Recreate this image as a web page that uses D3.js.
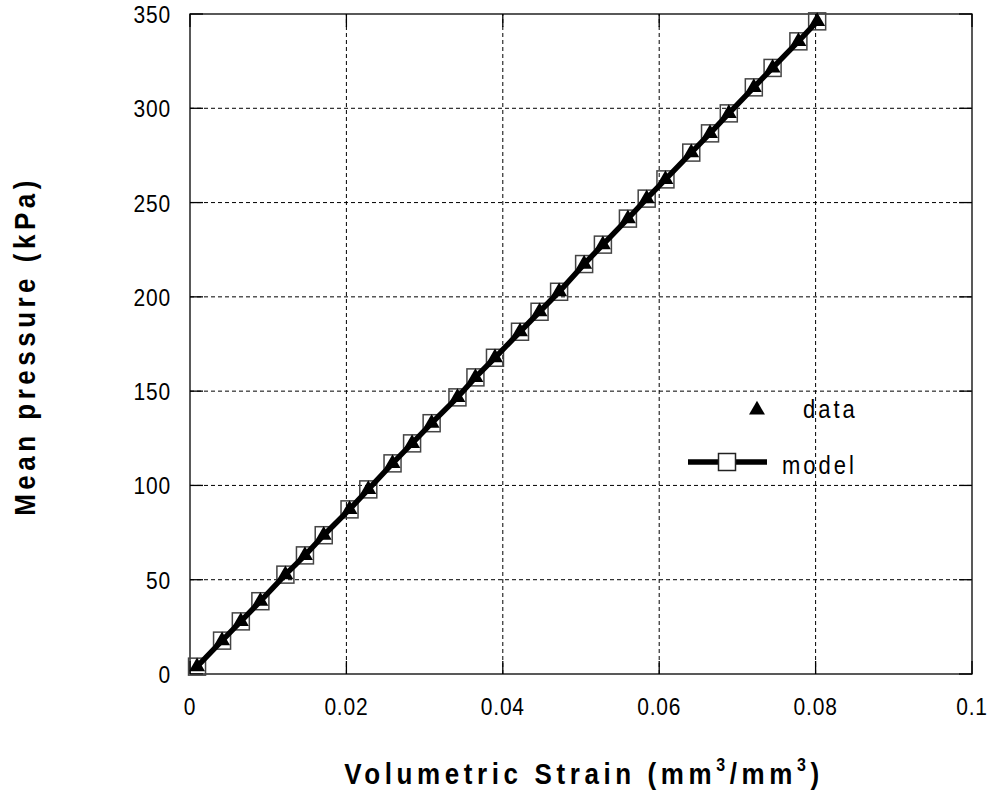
<!DOCTYPE html>
<html>
<head>
<meta charset="utf-8">
<script src="https://cdn.jsdelivr.net/npm/d3@7"></script>
<style>
  body { margin: 0; background: #fff; }
  svg { font-family: "Liberation Sans", Arial, sans-serif; }
</style>
</head>
<body>
<div id="chart"></div>
<script>
// volumetric strain (mm3/mm3) and mean pressure (kPa)
let strain = [0.0009, 0.0041, 0.0065, 0.0090, 0.0122, 0.0147, 0.0171, 0.0204, 0.0228,
    0.0259, 0.0284, 0.0309, 0.0342, 0.0365, 0.0390, 0.0422, 0.0447, 0.0472,
    0.0504, 0.0528, 0.0560, 0.0584, 0.0608, 0.0641, 0.0665, 0.0689,
    0.0721, 0.0745, 0.0778, 0.0802];
let pressure = [3.9, 17.7, 27.9, 38.6, 52.7, 62.9, 73.6, 87.3, 97.9,
    111.7, 122.3, 133.0, 146.7, 157.3, 167.7, 181.5, 192.1, 202.7,
    217.4, 227.7, 241.5, 252.1, 262.3, 276.5, 286.7, 297.3,
    311.1, 321.4, 335.5, 346.1];
// the model curve is drawn through the same points
let modelStrain = strain.slice();
let modelPressure = pressure.slice();

let xTicks = [0, 0.02, 0.04, 0.06, 0.08, 0.1];
let yTicks = [0, 50, 100, 150, 200, 250, 300, 350];

let width = 991, height = 792;
let margin = {left: 190, right: 19, top: 14, bottom: 118};
let stretch = 1.15; // the original glyphs are a bit taller than wide

let x = d3.scaleLinear().domain([0, 0.1]).range([margin.left, width - margin.right]);
let y = d3.scaleLinear().domain([0, 350]).range([height - margin.bottom, margin.top]);

let svg = d3.select("#chart").append("svg")
    .attr("width", width)
    .attr("height", height);

// grid
let grid = svg.append("g")
    .attr("stroke", "#000")
    .attr("stroke-width", 1)
    .attr("stroke-dasharray", "4,3");
grid.selectAll("line.vx")
    .data(xTicks.slice(1, -1))
    .join("line")
    .attr("x1", d => x(d)).attr("x2", d => x(d))
    .attr("y1", y(0)).attr("y2", y(350));
grid.selectAll("line.hy")
    .data(yTicks.slice(1, -1))
    .join("line")
    .attr("y1", d => y(d)).attr("y2", d => y(d))
    .attr("x1", x(0)).attr("x2", x(0.1));

// frame
svg.append("rect")
    .attr("x", x(0)).attr("y", y(350))
    .attr("width", x(0.1) - x(0)).attr("height", y(0) - y(350))
    .attr("fill", "none")
    .attr("stroke", "#000")
    .attr("stroke-width", 1.3);

// inward ticks on all four sides
let tickLen = 13;
let axes = svg.append("g").attr("stroke", "#000").attr("stroke-width", 1.3);
axes.selectAll("line.xb")
    .data(xTicks)
    .join("line")
    .attr("x1", d => x(d)).attr("x2", d => x(d))
    .attr("y1", y(0)).attr("y2", y(0) - tickLen);
axes.selectAll("line.xt")
    .data(xTicks)
    .join("line")
    .attr("x1", d => x(d)).attr("x2", d => x(d))
    .attr("y1", y(350)).attr("y2", y(350) + tickLen);
axes.selectAll("line.yl")
    .data(yTicks)
    .join("line")
    .attr("y1", d => y(d)).attr("y2", d => y(d))
    .attr("x1", x(0)).attr("x2", x(0) + tickLen);
axes.selectAll("line.yr")
    .data(yTicks)
    .join("line")
    .attr("y1", d => y(d)).attr("y2", d => y(d))
    .attr("x1", x(0.1)).attr("x2", x(0.1) - tickLen);

// tick labels
svg.append("g")
    .attr("font-size", 21)
    .attr("letter-spacing", 0.8)
    .attr("text-anchor", "middle")
    .selectAll("text")
    .data(xTicks)
    .join("text")
    .attr("transform", d => `translate(${x(d)},${y(0) + 41}) scale(1,${stretch})`)
    .text(d => d === 0 ? "0" : d3.format("~g")(d));

svg.append("g")
    .attr("font-size", 21)
    .attr("letter-spacing", 0.8)
    .attr("text-anchor", "end")
    .selectAll("text")
    .data(yTicks)
    .join("text")
    .attr("transform", d => `translate(${x(0) - 19},${y(d) + 9}) scale(1,${stretch})`)
    .text(d => d);

// axis titles
let xt = svg.append("text")
    .attr("transform", `translate(${(x(0) + x(0.1)) / 2 + 3},784) scale(1,${stretch})`)
    .attr("text-anchor", "middle")
    .attr("font-size", 26)
    .attr("font-weight", "bold")
    .attr("letter-spacing", 4.6);
xt.append("tspan").text("Volumetric Strain (mm");
xt.append("tspan").attr("font-size", 16).attr("dy", -11).text("3");
xt.append("tspan").attr("dy", 11).text("/mm");
xt.append("tspan").attr("font-size", 16).attr("dy", -11).text("3");
xt.append("tspan").attr("dy", 11).text(")");

svg.append("text")
    .attr("transform", `translate(35,${(y(0) + y(350)) / 2 + 2}) rotate(-90) scale(1,${stretch})`)
    .attr("text-anchor", "middle")
    .attr("font-size", 26)
    .attr("font-weight", "bold")
    .attr("letter-spacing", 4.5)
    .text("Mean pressure (kPa)");

// model: squares, then thick line
let sq = 17;
let tri = d3.symbol().type(d3.symbolTriangle).size(110);

svg.append("g")
    .selectAll("rect")
    .data(d3.range(modelStrain.length))
    .join("rect")
    .attr("x", i => x(modelStrain[i]) - sq / 2)
    .attr("y", i => y(modelPressure[i]) - sq / 2)
    .attr("width", sq).attr("height", sq)
    .attr("fill", "none")
    .attr("stroke", "#444")
    .attr("stroke-width", 1.5);

let line = d3.line()
    .x(i => x(modelStrain[i]))
    .y(i => y(modelPressure[i]));

svg.append("path")
    .datum(d3.range(modelStrain.length))
    .attr("d", line)
    .attr("fill", "none")
    .attr("stroke", "#000")
    .attr("stroke-width", 5.5);

// data triangles
svg.append("g")
    .selectAll("path")
    .data(d3.range(strain.length))
    .join("path")
    .attr("d", tri)
    .attr("transform", i => `translate(${x(strain[i])},${y(pressure[i])})`)
    .attr("fill", "#000");

// legend
let leg = svg.append("g").attr("font-size", 22).attr("letter-spacing", 3);
leg.append("path")
    .attr("d", tri)
    .attr("transform", "translate(757,410)")
    .attr("fill", "#000");
leg.append("text").attr("transform", `translate(803,418) scale(1,${stretch})`).text("data");
leg.append("line")
    .attr("x1", 688).attr("x2", 767)
    .attr("y1", 462).attr("y2", 462)
    .attr("stroke", "#000").attr("stroke-width", 5.5);
leg.append("rect")
    .attr("x", 727 - sq / 2).attr("y", 462 - sq / 2)
    .attr("width", sq).attr("height", sq)
    .attr("fill", "#fff")
    .attr("stroke", "#222")
    .attr("stroke-width", 1.5);
leg.append("text").attr("transform", `translate(782,474) scale(1,${stretch})`).text("model");
</script>
</body>
</html>
